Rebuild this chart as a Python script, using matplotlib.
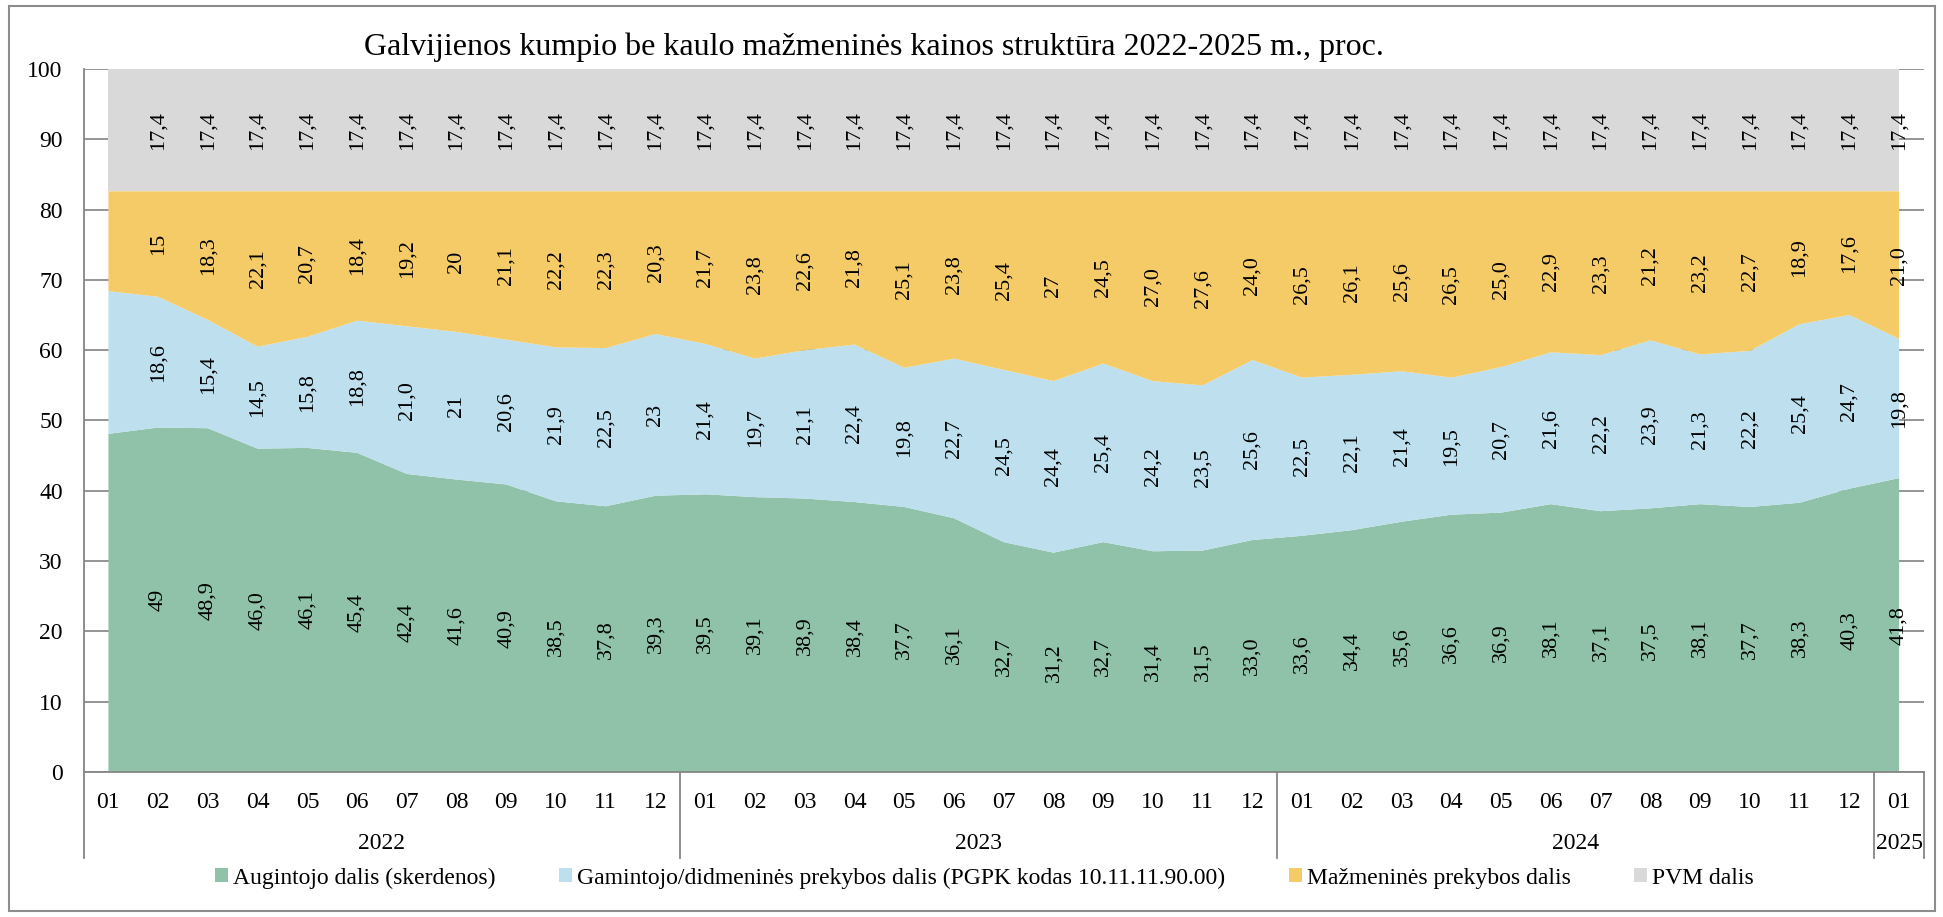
import matplotlib
matplotlib.use("Agg")
import matplotlib.pyplot as plt
from matplotlib.patches import Patch, Rectangle

plt.rcParams['font.family'] = ['Liberation Serif', 'DejaVu Serif']

title = "Galvijienos kumpio be kaulo mažmeninės kainos struktūra 2022-2025 m., proc."

months = ["01", "02", "03", "04", "05", "06", "07", "08", "09", "10", "11", "12"] * 3 + ["01"]
years = ["2022", "2023", "2024", "2025"]
year_len = [12, 12, 12, 1]

# first month (2022-01) has no value labels in the original
augintojo = ["48,1", "49", "48,9", "46,0", "46,1", "45,4", "42,4", "41,6", "40,9", "38,5", "37,8", "39,3",
             "39,5", "39,1", "38,9", "38,4", "37,7", "36,1", "32,7", "31,2", "32,7", "31,4", "31,5", "33,0",
             "33,6", "34,4", "35,6", "36,6", "36,9", "38,1", "37,1", "37,5", "38,1", "37,7", "38,3", "40,3",
             "41,8"]
gamintojo = ["20,3", "18,6", "15,4", "14,5", "15,8", "18,8", "21,0", "21", "20,6", "21,9", "22,5", "23",
             "21,4", "19,7", "21,1", "22,4", "19,8", "22,7", "24,5", "24,4", "25,4", "24,2", "23,5", "25,6",
             "22,5", "22,1", "21,4", "19,5", "20,7", "21,6", "22,2", "23,9", "21,3", "22,2", "25,4", "24,7",
             "19,8"]
mazmenine = ["14,2", "15", "18,3", "22,1", "20,7", "18,4", "19,2", "20", "21,1", "22,2", "22,3", "20,3",
             "21,7", "23,8", "22,6", "21,8", "25,1", "23,8", "25,4", "27", "24,5", "27,0", "27,6", "24,0",
             "26,5", "26,1", "25,6", "26,5", "25,0", "22,9", "23,3", "21,2", "23,2", "22,7", "18,9", "17,6",
             "21,0"]
pvm = ["17,4"] * 37

series = [augintojo, gamintojo, mazmenine, pvm]
names = ["Augintojo dalis (skerdenos)",
         "Gamintojo/didmeninės prekybos dalis (PGPK kodas 10.11.11.90.00)",
         "Mažmeninės prekybos dalis",
         "PVM dalis"]
colors = ["#8fc2a8", "#bddfee", "#f5cb67", "#d9d9d9"]

vals = [[float(v.replace(",", ".")) for v in s] for s in series]
x = list(range(len(months)))

fig = plt.figure(figsize=(19.43, 9.17), dpi=100)
ax = fig.add_axes([0.043, 0.1581, 0.9472, 0.7667])

ax.stackplot(x, *vals, colors=colors, linewidth=0, zorder=2)
ax.set_xlim(-0.5, len(x) - 0.5)
ax.set_ylim(0, 100)
ax.set_yticks(range(0, 101, 10))
ax.yaxis.grid(True, color="#8c8c8c", lw=1.3)
ax.set_axisbelow(True)
ax.tick_params(axis="y", length=0, pad=15, labelsize=17)
ax.set_xticks([])
ax.spines["top"].set_visible(False)
ax.spines["right"].set_visible(False)
for s in ["left", "bottom"]:
    ax.spines[s].set_color("#868686")
    ax.spines[s].set_linewidth(1.3)

# value labels in the middle of each band
base = [0.0] * len(x)
for s, v in zip(series, vals):
    for i in range(1, len(x)):
        ax.text(i, base[i] + v[i] / 2, s[i], rotation=90, ha="center", va="center",
                fontsize=16, zorder=3)
    base = [b + a for b, a in zip(base, v)]

# two-level category axis
tr = ax.get_xaxis_transform()
for i, m in enumerate(months):
    ax.text(i, -0.043, m, ha="center", va="center", fontsize=17, transform=tr)
start = -0.5
ax.plot([start, start], [0, -0.1223], color="#868686", lw=1.3, transform=tr, clip_on=False)
for y, n in zip(years, year_len):
    ax.text(start + n / 2, -0.101, y, ha="center", va="center", fontsize=17, transform=tr)
    start += n
    ax.plot([start, start], [0, -0.1223], color="#868686", lw=1.3, transform=tr, clip_on=False)

fig.text(0.4496, 0.9487, title, ha="center", va="center", fontsize=23)

handles = [Patch(facecolor=c, edgecolor="none") for c in colors]
fig.legend(handles, names, loc="center", bbox_to_anchor=(0.5067, 0.0425), ncol=4, frameon=False,
           fontsize=17, handlelength=0.55, handleheight=0.55, handletextpad=0.2, columnspacing=2.7)

fig.add_artist(Rectangle((0.0045, 0.0065), 0.9914, 0.9869, transform=fig.transFigure,
                         fill=False, edgecolor="#8c8c8c", lw=1.5))

fig.savefig("out.png", dpi=100)
